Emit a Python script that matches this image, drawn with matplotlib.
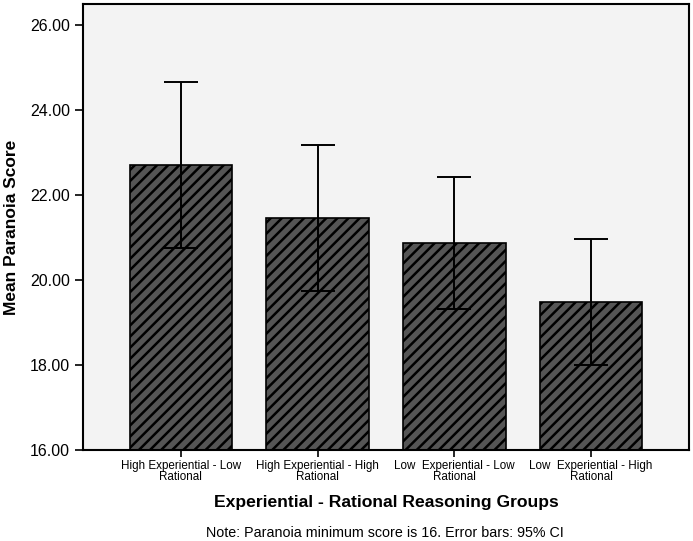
import numpy as np
import matplotlib.pyplot as plt

plt.rcParams['font.family'] = ['Liberation Sans', 'DejaVu Sans']
plt.rcParams['hatch.linewidth'] = 1.8

# data
groups = ['High Experiential - Low\nRational', 'High Experiential - High\nRational',
          'Low  Experiential - Low\nRational', 'Low  Experiential - High\nRational']
means = [22.71, 21.47, 20.87, 19.49]
ci_low = [20.76, 19.75, 19.33, 18.00]
ci_high = [24.66, 23.19, 22.42, 20.96]
yticks = [16, 18, 20, 22, 24, 26]

fig = plt.figure(figsize=(6.93, 5.41), dpi=100)
ax = fig.add_axes([0.1198, 0.1682, 0.8744, 0.8244])
ax.set_facecolor('#f3f3f3')

x = np.arange(len(groups))
err = [np.array(means) - np.array(ci_low), np.array(ci_high) - np.array(means)]
ax.bar(x, means, width=0.75, bottom=0, color='#555555', edgecolor='black',
       hatch='///', linewidth=1.2, zorder=2)
ax.errorbar(x, means, yerr=err, fmt='none', ecolor='black', elinewidth=1.4,
            capsize=12.5, capthick=1.4, zorder=3)

ax.set_ylim(16, 26.5)
ax.set_xlim(-0.715, 3.715)
ax.set_yticks(yticks)
ax.set_yticklabels(['%.2f' % t for t in yticks], fontsize=11.5)
ax.set_xticks(x)
ax.set_xticklabels(groups, fontsize=8.4, linespacing=0.9)
ax.tick_params(axis='y', direction='out', length=6, width=1.2)
ax.tick_params(axis='x', direction='out', length=5, width=1.2, pad=2)
for s in ax.spines.values():
    s.set_linewidth(1.5)

ax.set_ylabel('Mean Paranoia Score', fontsize=12.5, fontweight='bold', labelpad=8)
fig.text(386 / 693, 1 - 503 / 541, 'Experiential - Rational Reasoning Groups',
         ha='center', va='center', fontsize=12.6, fontweight='bold')
fig.text(385 / 693, 1 - 533 / 541, 'Note: Paranoia minimum score is 16. Error bars: 95% CI',
         ha='center', va='center', fontsize=10.3)

fig.savefig('out.png', dpi=100)
